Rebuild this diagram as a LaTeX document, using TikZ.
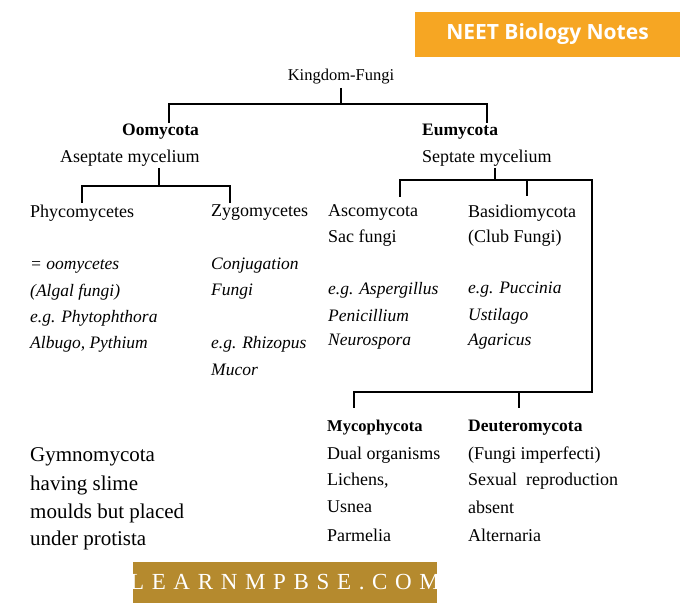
\documentclass[tikz,border=0pt]{standalone}
\usepackage{fontspec}
\setmainfont{Liberation Serif}
\newfontfamily\hdr{Open Sans}
\definecolor{neet}{HTML}{F6A623}
\definecolor{gold}{HTML}{B58A2E}
\begin{document}
\begin{tikzpicture}[x=1pt,y=-1pt,
  t/.style={anchor=west,inner sep=0pt,font=\fontsize{18}{20}\selectfont},
  it/.style={anchor=west,inner sep=0pt,font=\itshape\fontsize{17.5}{20}\selectfont},
  bd/.style={anchor=west,inner sep=0pt,font=\bfseries\fontsize{#1}{20}\selectfont},
  gy/.style={anchor=west,inner sep=0pt,font=\fontsize{21}{24}\selectfont},
  ln/.style={line width=1.6pt}]
\useasboundingbox (0,0) rectangle (689,612);
\fill[neet] (415,12) rectangle (680,57);
\node[text=white,font=\hdr\bfseries\fontsize{21}{24}\selectfont] (neet) at (547.5,34) {NEET Biology Notes};
\fill[gold] (133,562) rectangle (437,603);
\node[text=white,font=\fontsize{23}{26}\selectfont] (lm) at (285,582) {L\,\,E\,\,A\,\,R\,\,N\,\,M\,\,P\,\,B\,\,S\,\,E\,\,.\,\,C\,\,O\,\,M};
\node[font=\fontsize{16.5}{18}\selectfont] (kf) at (341,77) {Kingdom-Fungi};
\node[bd=17.5] (oo) at (122,132) {Oomycota};
\node[t] (as) at (60,158) {Aseptate mycelium};
\node[bd=17.5] (eu) at (422,132) {Eumycota};
\node[t] (se) at (422,158) {Septate mycelium};
\node[t] (ph) at (30,213) {Phycomycetes};
\node[t] (zy) at (211,213) {Zygomycetes};
\node[t] (asc) at (328,213) {Ascomycota};
\node[t] (ba) at (468,213) {Basidiomycota};
\node[t] at (328,238) {Sac fungi};
\node[t] at (468,238) {(Club Fungi)};
\node[it] at (30,266) {= oomycetes};
\node[it] at (30,292) {(Algal fungi)};
\node[it] at (30,318) {e.g. Phytophthora};
\node[it] at (30,344) {Albugo, Pythium};
\node[it] at (211,266) {Conjugation};
\node[it] at (211,292) {Fungi};
\node[it] at (211,344) {e.g. Rhizopus};
\node[it] at (211,370) {Mucor};
\node[it] at (328,290) {e.g. Aspergillus};
\node[it] at (328,316) {Penicillium};
\node[it] at (328,342) {Neurospora};
\node[it] at (468,290) {e.g. Puccinia};
\node[it] at (468,316) {Ustilago};
\node[it] at (468,342) {Agaricus};
\node[bd=16.5] (my) at (327,428) {Mycophycota};
\node[bd=17.5] (de) at (468,428) {Deuteromycota};
\node[t] at (327,455) {Dual organisms};
\node[t] at (327,481) {Lichens,};
\node[t] at (327,507) {Usnea};
\node[t] at (327,535) {Parmelia};
\node[t] at (468,455) {(Fungi imperfecti)};
\node[t] at (468,481) {Sexual\ \ reproduction};
\node[t] at (468,507) {absent};
\node[t] at (468,535) {Alternaria};
\node[gy] (gy) at (30,457) {Gymnomycota};
\node[gy] at (30,485) {having slime};
\node[gy] at (30,513) {moulds but placed};
\node[gy] at (30,540) {under protista};
\draw[ln] (341,88) -- (341,104);
\draw[ln] (169,123) -- (169,104) -- (487,104) -- (487,123);
\draw[ln] (159,168) -- (159,186);
\draw[ln] (82,203) -- (82,186) -- (230,186) -- (230,203);
\draw[ln] (495,168) -- (495,180);
\draw[ln] (400,197) -- (400,180) -- (592,180) -- (592,392) -- (354,392) -- (354,408);
\draw[ln] (527,180) -- (527,196);
\draw[ln] (519,392) -- (519,408);
\end{tikzpicture}
\end{document}
